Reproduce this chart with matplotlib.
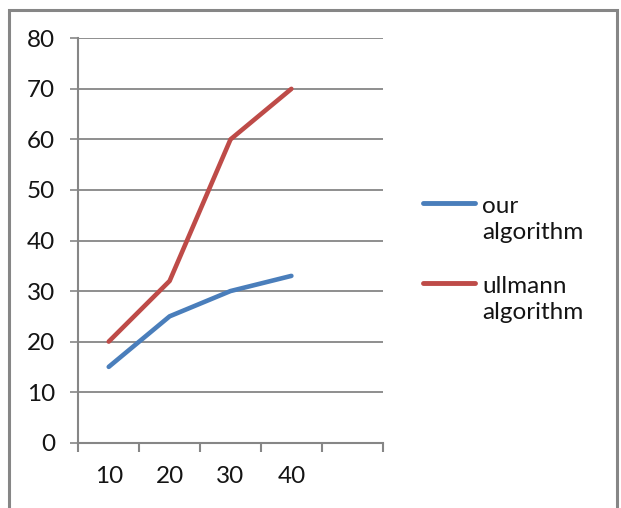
import numpy as np
import matplotlib
matplotlib.use("Agg")
import matplotlib.pyplot as plt
from matplotlib.lines import Line2D
from matplotlib.patches import Rectangle

# series values per category
categories = ["10", "20", "30", "40"]
our_algorithm = [15, 25, 30, 33]
ullmann_algorithm = [20, 32, 60, 70]
series_names = ["our\nalgorithm", "ullmann\nalgorithm"]
series_colors = ["#4a7ebb", "#be4b48"]
y_ticks = [0, 10, 20, 30, 40, 50, 60, 70, 80]
n_slots = 5  # category axis keeps one empty slot on the right

plt.rcParams["font.family"] = ["Lato", "DejaVu Sans"]
axis_gray = "#868686"
text_color = "#141414"
font_size = 17.5

fig = plt.figure(figsize=(6.21, 5.08), dpi=100)
fig.patch.set_facecolor("white")

# outer chart frame
fig.add_artist(Rectangle((9 / 621, -0.05), 608 / 621, 1.05 - 10 / 508,
                         transform=fig.transFigure, fill=False,
                         edgecolor=axis_gray, linewidth=2.2))

ax = fig.add_axes([78.3 / 621, 1 - 442.7 / 508, (382.7 - 78.3) / 621, (442.7 - 38.3) / 508])

x = np.arange(1, len(categories) + 1)
for vals, name, col in zip([our_algorithm, ullmann_algorithm], series_names, series_colors):
    ax.plot(x, vals, color=col, linewidth=3.3, solid_capstyle="round",
            solid_joinstyle="round", label=name, zorder=3)

ax.set_xlim(0.5, n_slots + 0.5)
ax.set_ylim(y_ticks[0], y_ticks[-1])

# category boundaries get tick marks, labels sit in the slot centres
ax.set_xticks(np.arange(0.5, n_slots + 1, 1.0))
ax.set_xticklabels([])
ax.set_xticks(x, minor=True)
ax.set_xticklabels(categories, minor=True)
ax.tick_params(axis="x", which="major", length=6.5, width=1.5, color=axis_gray, direction="out")
ax.tick_params(axis="x", which="minor", length=0, pad=17, labelsize=font_size, labelcolor=text_color)

ax.set_yticks(y_ticks)
ax.tick_params(axis="y", length=5.8, width=1.2, color=axis_gray, pad=11,
               labelsize=font_size, labelcolor=text_color)

ax.yaxis.grid(True, color=axis_gray, linewidth=1.3)
ax.set_axisbelow(True)
for side in ["top", "right"]:
    ax.spines[side].set_visible(False)
for side in ["left", "bottom"]:
    ax.spines[side].set_color(axis_gray)
    ax.spines[side].set_linewidth(1.5)

# legend entries: swatch aligned with the first text line
legend_rows = [(202.7, 219.5), (283.3, 299.5)]
for (line_y, text_y), name, col in zip(legend_rows, series_names, series_colors):
    fig.add_artist(Line2D([423 / 621, 475 / 621], [1 - line_y / 508] * 2,
                          transform=fig.transFigure, color=col, linewidth=3.5,
                          solid_capstyle="round"))
    fig.text(482 / 621, 1 - text_y / 508, name, fontsize=font_size, color=text_color,
             ha="left", va="center", linespacing=1.32)

fig.savefig("out.png", dpi=100)
